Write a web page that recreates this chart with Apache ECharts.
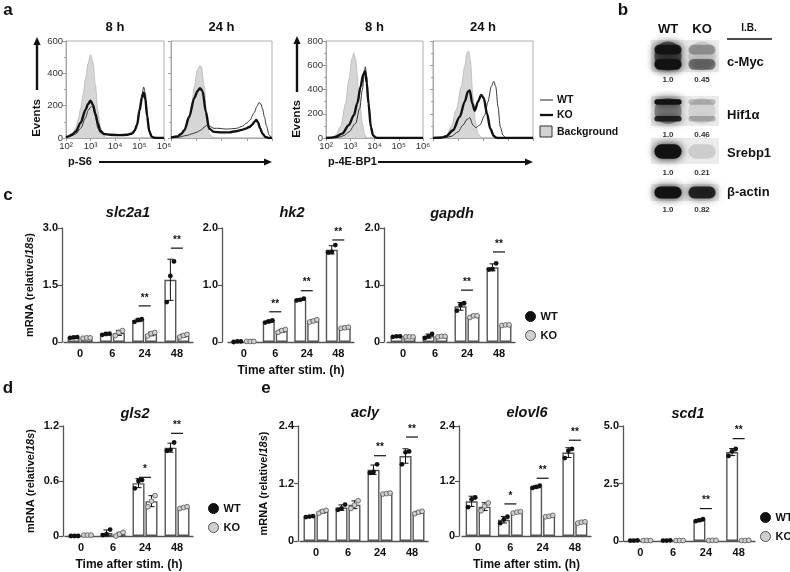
<!DOCTYPE html>
<html>
<head>
<meta charset="utf-8">
<script src="https://cdn.jsdelivr.net/npm/echarts@6/dist/echarts.min.js"></script>
<style>
  html, body { margin: 0; padding: 0; background: #fff; }
  #main { width: 790px; height: 572px; }
</style>
</head>
<body>
<div id="main"></div>
<script>
const FONT = '"Liberation Sans", Arial, Helvetica, sans-serif';
const SUP = { 2: '\u00b2', 3: '\u00b3', 4: '\u2074', 5: '\u2075', 6: '\u2076' };

// ---- panel a: flow histograms, [log10 intensity, events]
const s6_8h_bg = [[2, 2], [2.1, 6], [2.2, 15], [2.3, 35], [2.4, 65], [2.5, 115], [2.6, 185], [2.7, 270], [2.8, 370], [2.9, 460], [3.0, 515], [3.1, 470], [3.2, 330], [3.3, 170], [3.4, 70], [3.5, 22], [3.6, 5], [3.7, 0], [6, 0]];
const s6_8h_wt = [[2, 3], [2.2, 12], [2.4, 25], [2.6, 60], [2.8, 125], [2.9, 170], [3.0, 190], [3.08, 198], [3.2, 135], [3.3, 60], [3.4, 32], [3.6, 22], [4.0, 20], [4.5, 22], [4.7, 30], [4.8, 48], [4.9, 90], [5.0, 180], [5.1, 270], [5.17, 315], [5.24, 275], [5.31, 160], [5.4, 50], [5.5, 10], [5.6, 2], [5.8, 0], [6, 0]];
const s6_8h_ko = [[2, 4], [2.1, 10], [2.25, 22], [2.4, 40], [2.6, 95], [2.8, 175], [2.9, 210], [3.0, 230], [3.1, 205], [3.2, 150], [3.3, 90], [3.4, 45], [3.55, 25], [3.8, 20], [4.2, 18], [4.5, 20], [4.7, 28], [4.8, 45], [4.9, 80], [5.0, 170], [5.1, 250], [5.17, 280], [5.24, 240], [5.31, 135], [5.4, 40], [5.5, 8], [5.6, 2], [5.8, 0], [6, 0]];

const s6_24h_bg = [[2, 0], [2.2, 3], [2.3, 8], [2.46, 27], [2.6, 60], [2.72, 110], [2.82, 200], [2.92, 319], [3.05, 423], [3.15, 450], [3.2, 440], [3.32, 319], [3.41, 131], [3.51, 27], [3.64, 5], [3.8, 0], [6, 0]];
const s6_24h_wt = [[2, 0], [2.3, 5], [2.6, 15], [2.86, 27], [3.0, 35], [3.18, 48], [3.3, 65], [3.45, 83], [3.55, 70], [3.7, 60], [3.9, 60], [4.17, 55], [4.4, 57], [4.6, 60], [4.83, 73], [5.0, 92], [5.12, 110], [5.29, 155], [5.4, 195], [5.49, 220], [5.56, 210], [5.62, 183], [5.7, 130], [5.78, 75], [5.88, 20], [5.98, 3], [6, 0]];
const s6_24h_ko = [[2, 2], [2.26, 10], [2.4, 25], [2.53, 48], [2.72, 131], [2.92, 246], [3.05, 290], [3.15, 308], [3.25, 290], [3.38, 162], [3.51, 58], [3.7, 38], [4.0, 35], [4.3, 35], [4.57, 42], [4.8, 50], [4.96, 58], [5.1, 68], [5.22, 82], [5.3, 100], [5.38, 112], [5.45, 95], [5.53, 60], [5.62, 27], [5.75, 6], [5.9, 0], [6, 0]];

const eb_8h_bg = [[2, 0], [2.25, 5], [2.39, 22], [2.6, 92], [2.81, 286], [2.94, 481], [3.08, 662], [3.15, 703], [3.22, 648], [3.36, 370], [3.5, 120], [3.61, 22], [3.71, 0], [6, 0]];
const eb_8h_wt = [[2, 0], [2.5, 5], [2.75, 20], [2.94, 50], [3.22, 120], [3.39, 245], [3.5, 397], [3.57, 523], [3.62, 587], [3.68, 509], [3.75, 314], [3.85, 106], [3.94, 22], [4.06, 2], [4.2, 0], [6, 0]];
const eb_8h_ko = [[2, 0], [2.2, 3], [2.39, 8], [2.67, 36], [2.94, 106], [3.15, 189], [3.29, 286], [3.43, 425], [3.53, 523], [3.61, 550], [3.68, 453], [3.75, 286], [3.85, 92], [3.94, 22], [4.06, 3], [4.2, 0], [6, 0]];

const eb_24h_bg = [[2, 0], [2.35, 5], [2.53, 22], [2.73, 92], [2.93, 231], [3.13, 425], [3.27, 592], [3.36, 703], [3.43, 717], [3.49, 648], [3.6, 342], [3.71, 120], [3.8, 36], [3.93, 3], [4.05, 0], [6, 0]];
const eb_24h_wt = [[2, 0], [2.5, 4], [2.73, 14], [3.0, 50], [3.2, 106], [3.36, 153], [3.47, 167], [3.6, 106], [3.71, 86], [3.87, 106], [4.07, 189], [4.2, 300], [4.33, 425], [4.43, 467], [4.51, 425], [4.6, 259], [4.69, 92], [4.8, 22], [4.91, 3], [5.05, 0], [6, 0]];
const eb_24h_ko = [[2, 0], [2.35, 4], [2.53, 14], [2.8, 64], [3.07, 175], [3.27, 300], [3.4, 384], [3.47, 392], [3.57, 286], [3.67, 225], [3.8, 300], [3.93, 356], [4.03, 328], [4.16, 203], [4.29, 78], [4.43, 17], [4.53, 3], [4.65, 0], [6, 0]];

// ---- panels c-e: qPCR, three replicates per time point
const timeLabels = ['0', '6', '24', '48'];

const slc2a1WT = [[0.11, 0.12, 0.13], [0.19, 0.21, 0.22], [0.53, 0.58, 0.6], [1.05, 1.74, 2.12]];
const slc2a1KO = [[0.1, 0.11, 0.11], [0.17, 0.25, 0.3], [0.16, 0.22, 0.25], [0.13, 0.17, 0.2]];
const slc2a1Sig = [null, null, ['**', 0.95], ['**', 2.47]];

const hk2WT = [[0, 0.01, 0.01], [0.34, 0.36, 0.38], [0.73, 0.74, 0.76], [1.57, 1.58, 1.7]];
const hk2KO = [[0.01, 0.01, 0.01], [0.17, 0.2, 0.22], [0.35, 0.37, 0.39], [0.24, 0.25, 0.26]];
const hk2Sig = [null, ['**', 0.53], ['**', 0.9], ['**', 1.79]];

const gapdhWT = [[0.09, 0.1, 0.1], [0.07, 0.1, 0.14], [0.55, 0.65, 0.68], [1.27, 1.28, 1.38]];
const gapdhKO = [[0.09, 0.09, 0.09], [0.09, 0.1, 0.1], [0.43, 0.46, 0.46], [0.29, 0.3, 0.3]];
const gapdhSig = [null, null, ['**', 0.91], ['**', 1.58]];

const gls2WT = [[0, 0, 0], [0.01, 0.02, 0.07], [0.52, 0.6, 0.61], [0.93, 0.94, 1.02]];
const gls2KO = [[0.01, 0.01, 0.01], [0, 0.02, 0.04], [0.32, 0.38, 0.44], [0.3, 0.31, 0.32]];
const gls2Sig = [null, null, ['*', 0.64], ['**', 1.12]];

const aclyWT = [[0.5, 0.51, 0.52], [0.65, 0.68, 0.76], [1.42, 1.44, 1.6], [1.6, 1.85, 1.87]];
const aclyKO = [[0.58, 0.62, 0.64], [0.68, 0.75, 0.84], [0.98, 0.99, 1.0], [0.57, 0.6, 0.62]];
const aclySig = [null, null, ['**', 1.78], ['**', 2.17]];

const elovl6WT = [[0.63, 0.8, 0.84], [0.28, 0.36, 0.42], [1.05, 1.07, 1.1], [1.7, 1.86, 1.9]];
const elovl6KO = [[0.55, 0.65, 0.72], [0.5, 0.52, 0.53], [0.42, 0.43, 0.45], [0.28, 0.3, 0.31]];
const elovl6Sig = [null, ['*', 0.7], ['**', 1.26], ['**', 2.09]];

const scd1WT = [[0.02, 0.02, 0.03], [0.02, 0.02, 0.03], [0.86, 0.9, 0.95], [3.7, 3.9, 4.0]];
const scd1KO = [[0.02, 0.02, 0.02], [0.02, 0.02, 0.02], [0.02, 0.03, 0.03], [0.02, 0.02, 0.03]];
const scd1Sig = [null, null, ['**', 1.41], ['**', 4.45]];

// ---- panel b: immunoblot
const blotLanes = ['WT', 'KO'];
const blotProteins = ['c-Myc', 'Hif1\u03b1', 'Srebp1', '\u03b2-actin'];
const blotQuantWT = ['1.0', '1.0', '1.0', '1.0'];
const blotQuantKO = ['0.45', '0.46', '0.21', '0.82'];
// [position in lane (0 top .. 1 bottom), thickness, WT darkness, KO darkness]
const mycBands = [[0.5, 0.9, 0.6, 0.12], [0.3, 0.3, 0.9, 0.3], [0.76, 0.34, 1.0, 0.5]];
const hifBands = [[0.5, 0.85, 0.4, 0.1], [0.2, 0.18, 1.0, 0.22], [0.76, 0.18, 0.85, 0.25]];
const srebpBands = [[0.52, 0.55, 1.0, 0.13]];
const actinBands = [[0.5, 0.7, 1.0, 0.88]];

const mean = a => a.reduce((s, v) => s + v, 0) / a.length;
const sd = a => {
  const m = mean(a);
  return Math.sqrt(a.reduce((s, v) => s + (v - m) * (v - m), 0) / (a.length - 1));
};

const grid = [], xAxis = [], yAxis = [], series = [], graphic = [];

function text(x, y, str, font, extra) {
  return Object.assign({
    type: 'text', x: x, y: y, silent: true,
    style: { text: str, font: font + ' ' + FONT, fill: '#111', textAlign: 'center', textVerticalAlign: 'middle', align: 'center', verticalAlign: 'middle' }
  }, extra || {});
}
function leftText(x, y, str, font) {
  return {
    type: 'text', x: x, y: y, silent: true,
    style: { text: str, font: font + ' ' + FONT, fill: '#111', textAlign: 'left', align: 'left', textVerticalAlign: 'middle', verticalAlign: 'middle' }
  };
}

// ---------- flow panels
const flowPanels = [
  { left: 66, width: 98, max: 600, labels: true, title: '8 h', bg: s6_8h_bg, wt: s6_8h_wt, ko: s6_8h_ko },
  { left: 171, width: 101, max: 600, labels: false, title: '24 h', bg: s6_24h_bg, wt: s6_24h_wt, ko: s6_24h_ko },
  { left: 326, width: 97, max: 800, labels: true, title: '8 h', bg: eb_8h_bg, wt: eb_8h_wt, ko: eb_8h_ko },
  { left: 433, width: 100, max: 800, labels: false, title: '24 h', bg: eb_24h_bg, wt: eb_24h_wt, ko: eb_24h_ko }
];

flowPanels.forEach(p => {
  const gi = grid.length, xi = xAxis.length, yi = yAxis.length;
  grid.push({ left: p.left, top: 41, width: p.width, height: 97, show: true, borderColor: '#9a9a9a', borderWidth: 0.8, backgroundColor: 'rgba(0,0,0,0)' });
  xAxis.push({
    gridIndex: gi, type: 'value', min: 2, max: 6, interval: 1,
    axisLine: { lineStyle: { color: '#9a9a9a', width: 0.8 } },
    axisTick: { length: 3, lineStyle: { color: '#9a9a9a' } },
    axisLabel: { show: p.labels, formatter: v => '10' + SUP[v], fontSize: 9.5, color: '#333', margin: 3, fontFamily: FONT },
    splitLine: { show: false }
  });
  yAxis.push({
    gridIndex: gi, type: 'value', min: 0, max: p.max, interval: 200,
    axisLine: { show: true, lineStyle: { color: '#9a9a9a', width: 0.8 } },
    axisTick: { show: true, length: 3, lineStyle: { color: '#9a9a9a' } },
    minorTick: { show: true, splitNumber: 2, length: 2, lineStyle: { color: '#aaa' } },
    axisLabel: { show: p.labels, fontSize: 9.5, color: '#333', margin: 3, fontFamily: FONT },
    splitLine: { show: false }, minorSplitLine: { show: false }
  });
  series.push({
    type: 'line', name: 'Background', xAxisIndex: xi, yAxisIndex: yi, data: p.bg,
    smooth: 0.3, smoothMonotone: 'x', symbol: 'none', silent: true, z: 2,
    lineStyle: { color: '#b8b8b8', width: 0.8 }, areaStyle: { color: '#d6d6d6', opacity: 1 }
  });
  series.push({
    type: 'line', name: 'flow WT', xAxisIndex: xi, yAxisIndex: yi, data: p.wt,
    smooth: 0.3, smoothMonotone: 'x', symbol: 'none', silent: true, z: 3,
    lineStyle: { color: '#222', width: 0.9 }
  });
  series.push({
    type: 'line', name: 'flow KO', xAxisIndex: xi, yAxisIndex: yi, data: p.ko,
    smooth: 0.3, smoothMonotone: 'x', symbol: 'none', silent: true, z: 4,
    lineStyle: { color: '#111', width: 2.4 }
  });
  graphic.push(text(p.left + p.width / 2, 27, p.title, 'bold 13px'));
});

// Events labels with arrows, marker labels with arrows
[[37, 118, 90, 37], [297, 119, 92, 36]].forEach(e => {
  graphic.push(text(e[0], e[1], 'Events', 'bold 11.5px', { rotation: Math.PI / 2 }));
  graphic.push({ type: 'line', silent: true, shape: { x1: e[0], y1: e[2], x2: e[0], y2: e[3] + 6 }, style: { stroke: '#111', lineWidth: 2.4 } });
  graphic.push({ type: 'polygon', silent: true, shape: { points: [[e[0], e[3]], [e[0] - 3.6, e[3] + 8], [e[0] + 3.6, e[3] + 8]] }, style: { fill: '#111' } });
});
[[68, 'p-S6', 99, 272], [328, 'p-4E-BP1', 378, 533]].forEach(m => {
  graphic.push(leftText(m[0], 162, m[1], 'bold 11px'));
  graphic.push({ type: 'line', silent: true, shape: { x1: m[2], y1: 162, x2: m[3] - 6, y2: 162 }, style: { stroke: '#111', lineWidth: 2.2 } });
  graphic.push({ type: 'polygon', silent: true, shape: { points: [[m[3], 162], [m[3] - 8, 158.4], [m[3] - 8, 165.6]] }, style: { fill: '#111' } });
});

// flow legend
graphic.push({ type: 'line', silent: true, shape: { x1: 540, y1: 100, x2: 553, y2: 100 }, style: { stroke: '#222', lineWidth: 1 } });
graphic.push({ type: 'line', silent: true, shape: { x1: 540, y1: 115, x2: 553, y2: 115 }, style: { stroke: '#111', lineWidth: 2.3 } });
graphic.push({ type: 'rect', silent: true, shape: { x: 540, y: 126, width: 12, height: 11 }, style: { fill: '#d2d2d2', stroke: '#333', lineWidth: 1 } });
[['WT', 100], ['KO', 115], ['Background', 132]].forEach(l => {
  graphic.push(leftText(557, l[1], l[0], 'bold 10.5px'));
});

// ---------- immunoblot panel
const blotLayout = [{ top: 40, height: 32, label: 62 }, { top: 96, height: 30, label: 115 }, { top: 138, height: 26, label: 153 }, { top: 184, height: 17, label: 192 }];
const blotBandSets = [mycBands, hifBands, srebpBands, actinBands];

blotProteins.forEach((name, i) => {
  const gi = grid.length;
  const L = blotLayout[i];
  grid.push({ left: 651, width: 68, top: L.top, height: L.height, show: true, backgroundColor: '#ececec', borderWidth: 0 });
  const xi = xAxis.length;
  xAxis.push({
    gridIndex: gi, type: 'category', data: blotLanes, position: 'bottom',
    axisLine: { show: false }, axisTick: { show: false },
    axisLabel: { interval: 0, formatter: (v, idx) => idx === 0 ? blotQuantWT[i] : blotQuantKO[i], fontSize: 8, fontWeight: 'bold', color: '#333', margin: i === 0 ? 4 : 5, fontFamily: FONT }
  });
  if (i === 0) {
    xAxis.push({
      gridIndex: gi, type: 'category', data: blotLanes, position: 'top',
      axisLine: { show: false }, axisTick: { show: false },
      axisLabel: { interval: 0, fontSize: 13, fontWeight: 'bold', color: '#111', margin: 4, fontFamily: FONT }
    });
  }
  const yi = yAxis.length;
  yAxis.push({ gridIndex: gi, type: 'value', min: 0, max: 1, inverse: true, show: false });
  const items = [];
  blotBandSets[i].forEach(b => {
    items.push([0, b[0], b[1], b[2]]);
    items.push([1, b[0], b[1], b[3]]);
  });
  series.push({
    type: 'custom', xAxisIndex: xi, yAxisIndex: yi, data: items, silent: true, z: 3,
    renderItem: (params, api) => {
      const c = api.coord([api.value(0), api.value(1)]);
      const w = Math.abs(api.size([1, 0])[0]) * 0.8;
      const h = Math.abs(api.size([0, api.value(2)])[1]);
      const d = api.value(3);
      const col = 'rgba(18,18,18,' + d + ')';
      return {
        type: 'rect',
        shape: { x: c[0] - w / 2, y: c[1] - h / 2, width: w, height: h, r: h / 2 },
        style: { fill: col, shadowBlur: 8, shadowColor: col }
      };
    }
  });
  graphic.push(leftText(727, L.label, name, 'bold 13px'));
});
graphic.push(text(749, 28, 'I.B.', 'bold 10px'));
graphic.push({ type: 'line', silent: true, shape: { x1: 727, y1: 39, x2: 772, y2: 39 }, style: { stroke: '#111', lineWidth: 1.3 } });

// ---------- qPCR panels
const barPanels = [
  { title: 'slc2a1', wt: slc2a1WT, ko: slc2a1KO, sig: slc2a1Sig, max: 3, step: 1.5, left: 64, width: 129, top: 228, height: 114, yOffset: 2, tx: 128, ty: 213, yName: 27 },
  { title: 'hk2', wt: hk2WT, ko: hk2KO, sig: hk2Sig, max: 2, step: 1, left: 228, width: 126, top: 228, height: 114, yOffset: 6, tx: 292, ty: 213, xName: true },
  { title: 'gapdh', wt: gapdhWT, ko: gapdhKO, sig: gapdhSig, max: 2, step: 1, left: 387, width: 128, top: 228, height: 114, yOffset: 3, tx: 452, ty: 214 },
  { title: 'gls2', wt: gls2WT, ko: gls2KO, sig: gls2Sig, max: 1.2, step: 0.6, left: 65, width: 128, top: 426, height: 115, yOffset: 2, tx: 135, ty: 414, yName: 27, xName: true },
  { title: 'acly', wt: aclyWT, ko: aclyKO, sig: aclySig, max: 2.4, step: 1.2, left: 300, width: 128, top: 426, height: 115, yOffset: 2, tx: 365, ty: 413, yName: 29 },
  { title: 'elovl6', wt: elovl6WT, ko: elovl6KO, sig: elovl6Sig, max: 2.4, step: 1.2, left: 462, width: 129, top: 426, height: 115, yOffset: 3, tx: 527, ty: 413, xName: true },
  { title: 'scd1', wt: scd1WT, ko: scd1KO, sig: scd1Sig, max: 5, step: 2.5, left: 624, width: 131, top: 426, height: 115, yOffset: 1, tx: 688, ty: 414 }
];

const axisColor = '#555';
const labelStyle = { fontSize: 11, fontWeight: 'bold', color: '#111', fontFamily: FONT };

barPanels.forEach(p => {
  const gi = grid.length, xi = xAxis.length, yi = yAxis.length;
  grid.push({ left: p.left, top: p.top, width: p.width, height: p.height });
  xAxis.push(Object.assign({
    gridIndex: gi, type: 'category', data: timeLabels,
    axisLine: { lineStyle: { color: axisColor, width: 1.3 } },
    axisTick: { alignWithLabel: true, length: 3, lineStyle: { color: axisColor, width: 1.2 } },
    axisLabel: Object.assign({ interval: 0, margin: 6 }, labelStyle)
  }, p.xName ? {
    name: 'Time after stim. (h)', nameLocation: 'middle', nameGap: 23,
    nameTextStyle: { fontSize: 12, fontWeight: 'bold', color: '#111', fontFamily: FONT }
  } : {}));
  yAxis.push(Object.assign({
    gridIndex: gi, type: 'value', min: 0, max: p.max, interval: p.step, offset: p.yOffset,
    axisLine: { show: true, lineStyle: { color: axisColor, width: 1.3 } },
    axisTick: { show: true, length: 4, lineStyle: { color: axisColor, width: 1.2 } },
    axisLabel: Object.assign({ margin: 4, formatter: v => v === 0 ? '0' : v.toFixed(1) }, labelStyle),
    splitLine: { show: false }
  }, p.yName ? {
    name: 'mRNA (relative/{i|18s})', nameLocation: 'middle', nameGap: p.yName, nameRotate: 90,
    nameTextStyle: {
      fontSize: 11, fontWeight: 'bold', color: '#111', fontFamily: FONT,
      rich: { i: { fontSize: 11, fontWeight: 'bold', fontStyle: 'italic', color: '#111', fontFamily: FONT } }
    }
  } : {}));

  series.push({
    type: 'bar', name: 'WT', xAxisIndex: xi, yAxisIndex: yi, data: p.wt.map(mean),
    barWidth: 12, barGap: '8%', silent: true, z: 2,
    itemStyle: { color: '#fff', borderColor: '#555', borderWidth: 1.4 }
  });
  series.push({
    type: 'bar', name: 'KO', xAxisIndex: xi, yAxisIndex: yi, data: p.ko.map(mean),
    barWidth: 12, barGap: '8%', silent: true, z: 2,
    itemStyle: { color: '#fff', borderColor: '#555', borderWidth: 1.4 }
  });

  // replicate dots + SD error bars
  const dotItems = [];
  timeLabels.forEach((t, c) => { dotItems.push([c, 0]); dotItems.push([c, 1]); });
  series.push({
    type: 'custom', xAxisIndex: xi, yAxisIndex: yi, data: dotItems, silent: true, z: 5,
    renderItem: (params, api) => {
      const c = api.value(0), g = api.value(1);
      const pts = (g === 0 ? p.wt : p.ko)[c];
      const m = mean(pts), s = sd(pts);
      const cx = api.coord([c, m])[0] + (g === 0 ? -6.5 : 6.5);
      const yHi = api.coord([c, m + s])[1];
      const yLo = api.coord([c, Math.max(0, m - s)])[1];
      const children = [
        { type: 'line', shape: { x1: cx, y1: yLo, x2: cx, y2: yHi }, style: { stroke: '#111', lineWidth: 1 } },
        { type: 'line', shape: { x1: cx - 3, y1: yHi, x2: cx + 3, y2: yHi }, style: { stroke: '#111', lineWidth: 1 } },
        { type: 'line', shape: { x1: cx - 3, y1: yLo, x2: cx + 3, y2: yLo }, style: { stroke: '#111', lineWidth: 1 } }
      ];
      pts.forEach((v, k) => {
        const py = api.coord([c, v])[1];
        children.push({
          type: 'circle', shape: { cx: cx + (k - 1) * 3.6, cy: py, r: 2.4 },
          style: g === 0 ? { fill: '#111' } : { fill: '#cfcfcf', stroke: '#555', lineWidth: 0.8 }
        });
      });
      return { type: 'group', children: children };
    }
  });

  // significance marks
  const sigItems = [];
  p.sig.forEach((s, c) => { if (s) sigItems.push([c, s[1]]); });
  series.push({
    type: 'custom', xAxisIndex: xi, yAxisIndex: yi, data: sigItems, silent: true, z: 6,
    renderItem: (params, api) => {
      const c = api.value(0);
      const pt = api.coord([c, api.value(1)]);
      return {
        type: 'group', children: [
          { type: 'line', shape: { x1: pt[0] - 6, y1: pt[1], x2: pt[0] + 6, y2: pt[1] }, style: { stroke: '#111', lineWidth: 1.2 } },
          { type: 'text', style: { text: p.sig[c][0], x: pt[0], y: pt[1] - 3, font: 'bold 10px ' + FONT, fill: '#111', textAlign: 'center', textVerticalAlign: 'bottom', align: 'center', verticalAlign: 'bottom' } }
        ]
      };
    }
  });

  graphic.push(text(p.tx, p.ty, p.title, 'italic bold 14.5px'));
});

// panel letters
[['a', 8, 10], ['b', 623, 10], ['c', 8, 195], ['d', 8, 388], ['e', 266, 388]].forEach(l => {
  graphic.push(text(l[1], l[2], l[0], 'bold 17px'));
});

function genoLegend(left, top) {
  return {
    left: left, top: top, orient: 'vertical', itemWidth: 10, itemHeight: 10, itemGap: 8,
    selectedMode: false, padding: 0,
    textStyle: { fontSize: 11, fontWeight: 'bold', color: '#111', fontFamily: FONT },
    data: [
      { name: 'WT', icon: 'circle', itemStyle: { color: '#111', borderColor: '#111', borderWidth: 1 } },
      { name: 'KO', icon: 'circle', itemStyle: { color: '#cfcfcf', borderColor: '#555', borderWidth: 1 } }
    ]
  };
}

const chart = echarts.init(document.getElementById('main'));
const option = {
  backgroundColor: '#fff',
  animation: false,
  grid: grid,
  xAxis: xAxis,
  yAxis: yAxis,
  legend: [genoLegend(525, 311), genoLegend(208, 503), genoLegend(760, 512)],
  graphic: graphic,
  series: series
};
option && chart.setOption(option);
</script>
</body>
</html>
